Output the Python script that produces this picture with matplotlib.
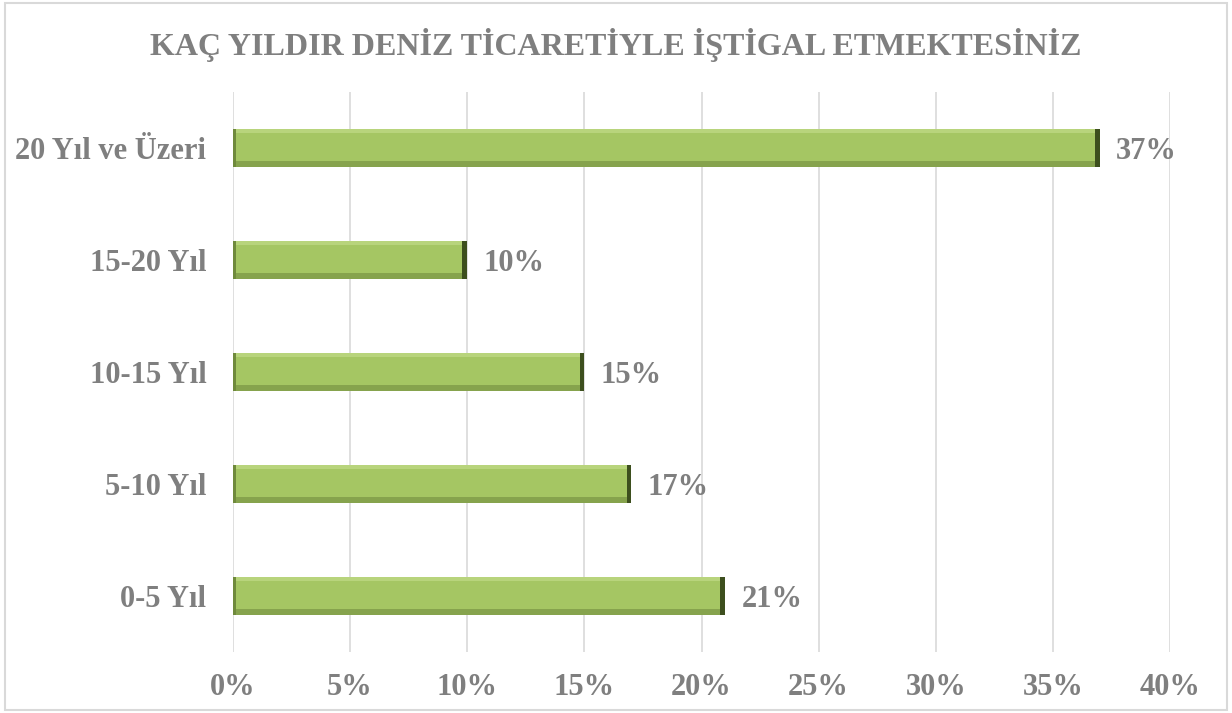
import matplotlib.pyplot as plt
from matplotlib.patches import Rectangle

categories = ["0-5 Yıl", "5-10 Yıl", "10-15 Yıl", "15-20 Yıl", "20 Yıl ve Üzeri"]
shares = [21, 17, 15, 10, 37]
xticks = [0, 5, 10, 15, 20, 25, 30, 35, 40]
title = "KAÇ YILDIR DENİZ TİCARETİYLE İŞTİGAL ETMEKTESİNİZ"

GREY = "#7f7f7f"
GREEN = "#a5c663"
plt.rcParams["font.family"] = ["Liberation Serif", "DejaVu Serif"]

fig = plt.figure(figsize=(12.32, 7.13), dpi=100)
ax = fig.add_axes([0.189, 0.0856, 0.7608, 0.7854])

ypos = range(len(categories))
h = 0.34
ax.barh(ypos, shares, height=h, color=GREEN, edgecolor="none", zorder=2)
# bevel: lighter top strip, darker bottom strip, dark right end
for y, v in zip(ypos, shares):
    ax.add_patch(Rectangle((0, y + h / 2 - 0.04), v, 0.04, color="#b8d47c", lw=0, zorder=3))
    ax.add_patch(Rectangle((0, y - h / 2), v, 0.05, color="#86a34d", lw=0, zorder=3))
    ax.add_patch(Rectangle((0, y - h / 2), 0.15, h, color="#6f8a3c", lw=0, zorder=4))
    ax.add_patch(Rectangle((v - 0.2, y - h / 2), 0.2, h, color="#3d4f1e", lw=0, zorder=4))
    ax.text(v + 0.7, y - 0.03, f"{v}%", ha="left", va="center", fontsize=22,
            fontweight="bold", color=GREY)

ax.set_xlim(0, 40)
ax.set_ylim(-0.5, len(categories) - 0.5)
ax.set_xticks(xticks)
ax.set_xticklabels([f"{t}%" for t in xticks])
ax.set_yticks(list(ypos))
ax.set_yticklabels(categories)
ax.tick_params(length=0, labelsize=22, labelcolor=GREY)
ax.tick_params(axis="y", pad=19)
ax.tick_params(axis="x", pad=15)
for lab in ax.get_xticklabels() + ax.get_yticklabels():
    lab.set_fontweight("bold")
ax.grid(axis="x", color="#d9d9d9", lw=1.2, zorder=0)
ax.set_axisbelow(True)
for s in ax.spines.values():
    s.set_visible(False)

fig.text(0.5, 0.937, title, ha="center", va="center", fontsize=23,
         fontweight="bold", color=GREY)
fig.add_artist(Rectangle((0.004, 0.004), 0.992, 0.992, transform=fig.transFigure,
                         fill=False, edgecolor="#d9d9d9", lw=1.5))

fig.savefig("out.png", dpi=100)
